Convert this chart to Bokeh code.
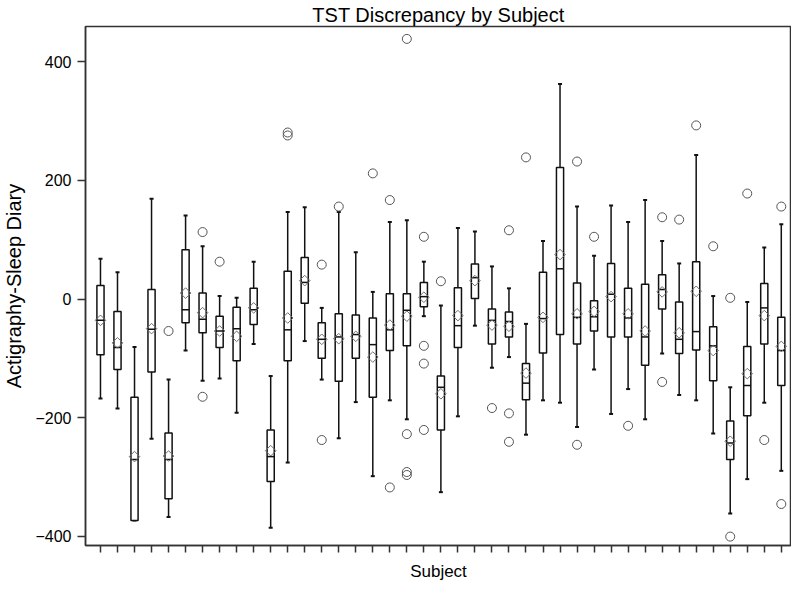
import math
from bokeh.plotting import figure
from bokeh.models import ColumnDataSource, Range1d, FixedTicker, CustomLabelingPolicy
from bokeh.embed import file_html
from bokeh.resources import INLINE

subjects = list(range(1, 42))
whisker_low = [-168, -185, -374, -236, -368, -87, -138, -134, -192, -76,
               -386, -276, -71, -136, -235, -174, -299, -171, -203, -29,
               -326, -198, -45, -116, -98, -229, -171, -175, -216, -119,
               -194, -152, -203, -92, -162, -171, -227, -362, -304, -175, -290]
q1 = [-94, -119, -374, -123, -337, -40, -57, -82, -104, -43,
      -308, -104, -7, -100, -139, -100, -166, -87, -79, -13,
      -221, -82, 1, -76, -64, -170, -91, -60, -76, -54,
      -64, -64, -112, -17, -92, -86, -138, -271, -197, -76, -146]
median = [-36, -82, -271, -51, -271, -18, -34, -54, -50, -18,
          -266, -52, 28, -68, -64, -60, -77, -52, -19, 4,
          -149, -45, 36, -36, -38, -142, -33, 51, -31, -30,
          8, -32, -64, 16, -68, -55, -79, -243, -146, -15, -87]
q3 = [23, -21, -166, 16, -226, 83, 10, -29, -14, 18,
      -221, 47, 70, -40, -25, -27, -32, 9, 9, 28,
      -130, 19, 59, -17, -22, -109, 45, 222, 27, -3,
      60, 18, 25, 41, -5, 63, -47, -206, -80, 26, -31]
whisker_high = [68, 45, -81, 169, -136, 141, 89, 5, 2, 63,
                -130, 147, 155, -15, 147, 79, 12, 130, 133, 63,
                -11, 120, 114, 55, 18, -42, 98, 363, 156, 73,
                158, 130, 167, 98, 60, 243, 5, -149, -5, 87, 126]
means = [-36, -74, -266, -50, -265, 10, -23, -54, -63, -15,
         -256, -32, 31, -68, -67, -63, -98, -44, -29, 3,
         -160, -28, 31, -44, -46, -125, -31, 75, -25, -21,
         4, -25, -54, 12, -57, 13, -87, -240, -126, -28, -80]

outlier_subject = [5, 7, 7, 8, 12, 12, 14, 14, 15, 17, 18, 18,
                   19, 19, 19, 19, 20, 20, 20, 20, 21, 24, 25, 25, 25,
                   26, 29, 29, 30, 32, 34, 34, 35, 36, 37, 38, 38, 39, 40, 41, 41]
outlier_value = [-54, 113, -165, 63, 276, 281, 58, -238, 156, 212, 167, -318,
                 439, -228, -292, -297, 105, -79, -109, -221, 30, -184, 116, -193, -241,
                 239, 232, -246, 105, -214, 138, -140, 134, 293, 89, 2, -401, 178, -238, 156, -346]

title_text = "TST Discrepancy by Subject"
x_label = "Subject"
y_label = "Actigraphy-Sleep Diary"
y_ticks = [-400, -200, 0, 200, 400]

FONT = "Liberation Sans"
INK = "#111111"
AXIS = "#333333"

src = ColumnDataSource(dict(x=subjects, lo=whisker_low, q1=q1, med=median,
                            q3=q3, hi=whisker_high, mean=means))
osrc = ColumnDataSource(dict(x=outlier_subject, y=outlier_value))

p = figure(frame_width=706, frame_height=519, output_backend="svg", toolbar_location=None,
           x_range=Range1d(0.12, 41.6), y_range=Range1d(-416.0, 459.9),
           min_border_left=77, min_border_right=0, min_border_top=19,
           min_border_bottom=0, title=title_text)

p.title.align = "center"
p.title.text_font = FONT
p.title.text_font_size = "20px"
p.title.text_font_style = "normal"
p.title.text_color = "#000000"
p.title.standoff = 2
p.title.offset = 0

p.xgrid.visible = False
p.ygrid.visible = False
p.outline_line_color = AXIS
p.outline_line_width = 1.5
p.background_fill_color = "white"
p.border_fill_color = "white"

# whisker stems
p.segment(x0="x", y0="q3", x1="x", y1="hi", source=src, line_color=INK, line_width=1.5)
p.segment(x0="x", y0="lo", x1="x", y1="q1", source=src, line_color=INK, line_width=1.5)
# caps
p.scatter(x="x", y="hi", source=src, marker="dash", size=4, line_color=INK, line_width=2)
p.scatter(x="x", y="lo", source=src, marker="dash", size=4, line_color=INK, line_width=2)
# boxes
p.vbar(x="x", width=0.42, bottom="q1", top="q3", source=src, fill_color="white",
       line_color=INK, line_width=1.5)
# medians
p.scatter(x="x", y="med", source=src, marker="dash", size=7.5, line_color=INK, line_width=1.5)
# means
p.scatter(x="x", y="mean", source=src, marker="square", angle=math.pi / 4, size=7.5,
          fill_color=None, line_color="#6e6e6e", line_width=1)
# outliers
p.scatter(x="x", y="y", source=osrc, marker="circle", size=9, fill_color=None,
          line_color="#555555", line_width=1)

# x axis: ticks only, no tick labels
p.xaxis.ticker = FixedTicker(ticks=subjects)
p.xaxis.major_label_text_font_size = "0px"
p.xaxis.major_label_standoff = 0
p.xaxis.major_label_policy = CustomLabelingPolicy(code="""
const n = indices.size
for (let i = 0; i < n; i++) { indices.unset(i) }
return indices
""")
p.xaxis.axis_label = x_label
p.xaxis.axis_label_text_font = FONT
p.xaxis.axis_label_text_font_size = "17px"
p.xaxis.axis_label_text_font_style = "normal"
p.xaxis.axis_label_text_color = "#000000"
p.xaxis.axis_label_standoff = 9
p.xaxis.major_tick_out = 7
p.xaxis.major_tick_in = 0
p.xaxis.minor_tick_out = 0
p.xaxis.minor_tick_in = 0
p.xaxis.major_tick_line_color = AXIS
p.xaxis.major_tick_line_width = 1.5
p.xaxis.axis_line_color = AXIS
p.xaxis.axis_line_width = 1.5

p.yaxis.ticker = FixedTicker(ticks=y_ticks)
p.yaxis.major_label_text_font = FONT
p.yaxis.major_label_text_font_size = "16px"
p.yaxis.major_label_text_color = "#000000"
p.yaxis.major_label_standoff = 6
p.yaxis.axis_label = y_label
p.yaxis.axis_label_text_font = FONT
p.yaxis.axis_label_text_font_size = "20px"
p.yaxis.axis_label_text_font_style = "normal"
p.yaxis.axis_label_text_color = "#000000"
p.yaxis.axis_label_standoff = 7
p.yaxis.major_tick_out = 8
p.yaxis.major_tick_in = 0
p.yaxis.minor_tick_out = 0
p.yaxis.minor_tick_in = 0
p.yaxis.major_tick_line_color = AXIS
p.yaxis.major_tick_line_width = 1.5
p.yaxis.axis_line_color = AXIS
p.yaxis.axis_line_width = 1.5

open("out.html", "w").write(file_html(p, INLINE))
